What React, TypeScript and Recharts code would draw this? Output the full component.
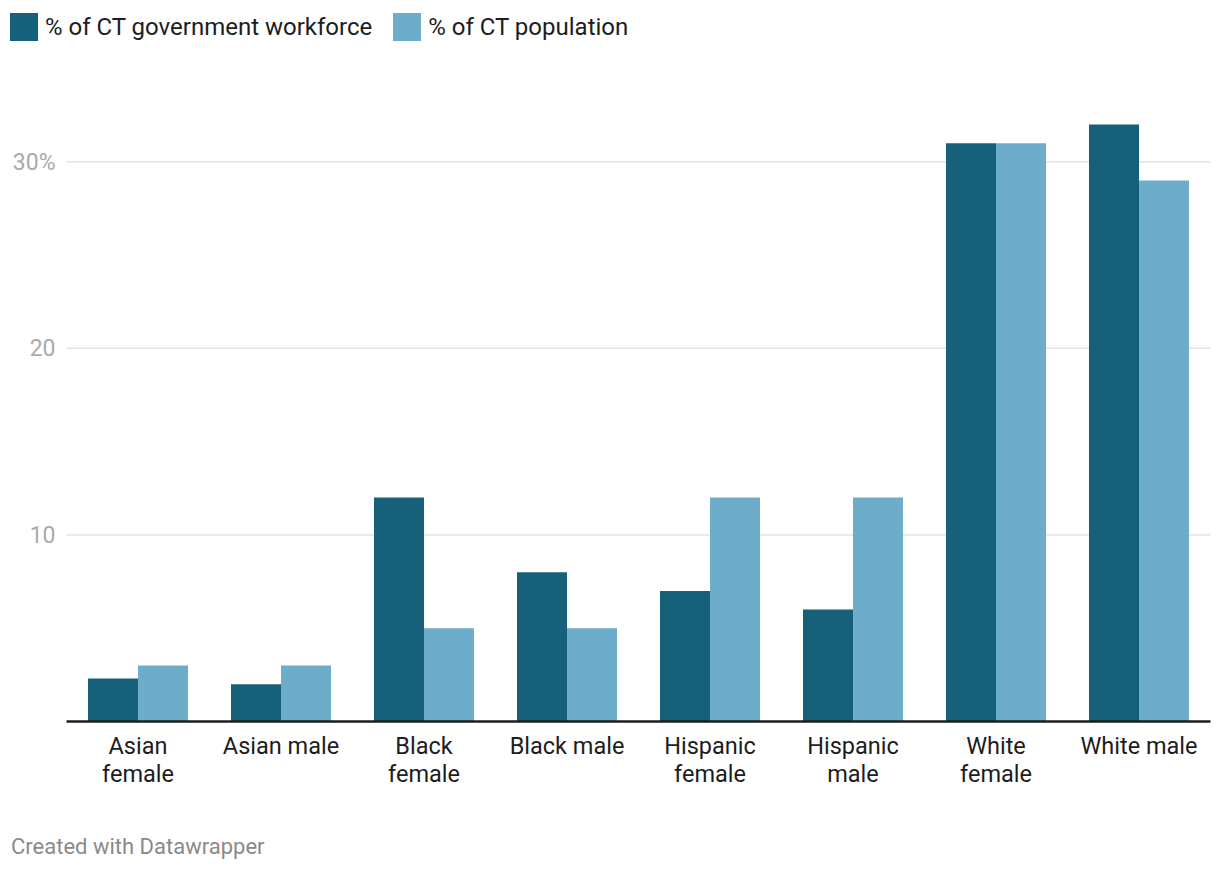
import React from "react";
import { BarChart, Bar, XAxis, YAxis, CartesianGrid } from "recharts";

const categories = [
  "Asian female",
  "Asian male",
  "Black female",
  "Black male",
  "Hispanic female",
  "Hispanic male",
  "White female",
  "White male",
];
const workforce = [2.3, 2, 12, 8, 7, 6, 31, 32];
const population = [3, 3, 5, 5, 12, 12, 31, 29];
const yTicks = [10, 20, 30];

const DARK = "#17607a";
const LIGHT = "#6eadc9";
const FONT = "Roboto, 'Noto Sans', sans-serif";

const data = categories.map((c, i) => ({
  name: c,
  workforce: workforce[i],
  population: population[i],
}));

function splitLabel(s: string): string[] {
  if (s.length <= 10) return [s];
  const idx = s.lastIndexOf(" ");
  return [s.slice(0, idx), s.slice(idx + 1)];
}

const XTick = (props: any) => {
  const { x, y, payload } = props;
  const lines = splitLabel(String(payload.value));
  return (
    <g transform={`translate(${x},${y})`}>
      {lines.map((l, i) => (
        <text
          key={i}
          x={0}
          y={i * 27.5}
          dy={24.5}
          textAnchor="middle"
          fill="#1d1d1d"
          fontSize={23.5}
          fontFamily={FONT}
        >
          {l}
        </text>
      ))}
    </g>
  );
};

const YTick = (props: any) => {
  const { x, y, payload } = props;
  const v = payload.value;
  return (
    <text
      x={x}
      y={y}
      dy={8}
      textAnchor="end"
      fill="#aaaaaa"
      fontSize={23}
      fontFamily={FONT}
    >
      {v === 30 ? "30%" : String(v)}
    </text>
  );
};

const LegendItem = ({ color, label }: { color: string; label: string }) => (
  <div style={{ display: "flex", alignItems: "center", marginRight: 21 }}>
    <div style={{ width: 28, height: 28, background: color, marginRight: 7 }} />
    <span style={{ fontSize: 24, color: "#1d1d1d", fontFamily: FONT }}>{label}</span>
  </div>
);

export default function App() {
  return (
    <div
      style={{
        position: "absolute",
        left: 0,
        top: 0,
        width: 1220,
        height: 872,
        background: "#fff",
        fontFamily: FONT,
      }}
    >
      <div style={{ position: "absolute", left: 10, top: 13, display: "flex" }}>
        <LegendItem color={DARK} label="% of CT government workforce" />
        <LegendItem color={LIGHT} label="% of CT population" />
      </div>
      <div style={{ position: "absolute", left: 0, top: 0 }}>
        <BarChart
          width={1220}
          height={800}
          data={data}
          margin={{ top: 68.5, right: 9.5, bottom: 0, left: 0 }}
          barCategoryGap={21.5}
          barGap={0}
        >
          <CartesianGrid
            vertical={false}
            horizontal
            stroke="#e3e3e3"
            strokeWidth={1.5}
            horizontalValues={yTicks}
          />
          <YAxis
            type="number"
            domain={[0, 35]}
            ticks={yTicks}
            width={66.5}
            axisLine={false}
            tickLine={false}
            tick={<YTick />}
            tickSize={0}
            tickMargin={11}
          />
          <XAxis
            dataKey="name"
            interval={0}
            axisLine={{ stroke: "#1d1d1d", strokeWidth: 2.5 }}
            tickLine={false}
            tick={<XTick />}
            height={78.5}
          />
          <Bar dataKey="workforce" fill={DARK} isAnimationActive={false} />
          <Bar dataKey="population" fill={LIGHT} isAnimationActive={false} />
        </BarChart>
      </div>
      <div
        style={{
          position: "absolute",
          left: 11,
          top: 834,
          fontSize: 22,
          color: "#8a8a8a",
          fontFamily: FONT,
        }}
      >
        Created with Datawrapper
      </div>
    </div>
  );
}
